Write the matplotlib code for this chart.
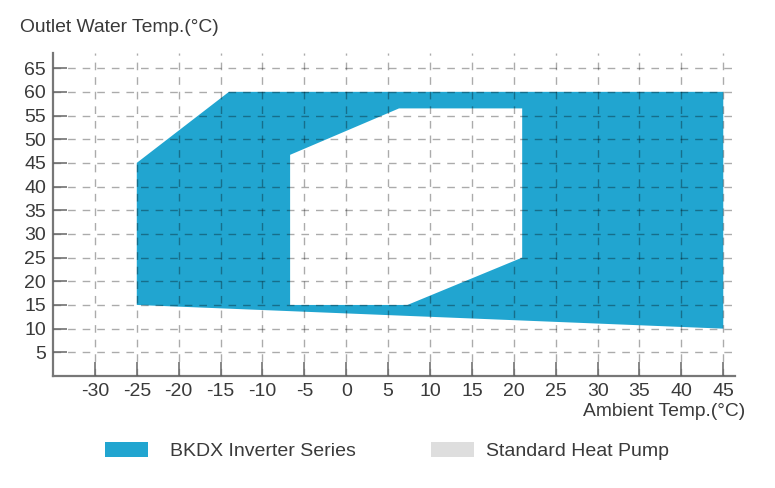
import matplotlib
matplotlib.use('Agg')
import matplotlib.pyplot as plt
from matplotlib.patches import Rectangle

# Operating envelope (ambient temp, outlet water temp)
outer_x = [-25, -14, 45, 45, -25]
outer_y = [45, 60, 60, 10, 15]
inner_x = [-6.7, 6.3, 21, 21, 7.3, -6.7]
inner_y = [46.7, 56.5, 56.5, 25, 15, 15]

x_ticks = [-30, -25, -20, -15, -10, -5, 0, 5, 10, 15, 20, 25, 30, 35, 40, 45]
y_ticks = [5, 10, 15, 20, 25, 30, 35, 40, 45, 50, 55, 60, 65]

legend_labels = ['BKDX Inverter Series', 'Standard Heat Pump']
blue = '#21a5d0'
gray = '#dedede'
text_color = '#3a3a3a'

plt.rcParams['font.family'] = ['Liberation Sans', 'DejaVu Sans']
plt.rcParams['axes.unicode_minus'] = False

W, H = 775, 488
fig = plt.figure(figsize=(W / 100, H / 100), dpi=100)
ax = fig.add_axes([53 / W, 1 - 376 / H, 682 / W, 323 / H])

ax.fill(outer_x, outer_y, color=blue, lw=0, zorder=1)
ax.fill(inner_x, inner_y, color='white', lw=0, zorder=1.5)

ax.set_xlim(-35, 46.4)
ax.set_ylim(0, 68.2)
ax.set_xticks(x_ticks)
ax.set_yticks(y_ticks)

ax.grid(True, color='black', alpha=0.33, lw=1.0, linestyle=(0, (5.5, 5)), zorder=2)
ax.set_axisbelow(False)

for s in ['top', 'right']:
    ax.spines[s].set_visible(False)
for s in ['left', 'bottom']:
    ax.spines[s].set_color('#777777')
    ax.spines[s].set_linewidth(1.6)

ax.tick_params(direction='in', length=10, width=1.1, color='#666666',
               labelsize=14, labelcolor=text_color, pad=5)

fig.text(20 / W, 1 - 28 / H, 'Outlet Water Temp.(°C)', fontsize=13.9,
         color=text_color, ha='left', va='center')
fig.text(745 / W, 1 - 412 / H, 'Ambient Temp.(°C)', fontsize=13.9,
         color=text_color, ha='right', va='center')

# legend
for (x0, tx), col, lab in zip([(105, 170), (431, 486)], [blue, gray], legend_labels):
    fig.patches.append(Rectangle((x0 / W, 1 - 457 / H), 43 / W, 15 / H,
                                 transform=fig.transFigure, color=col, lw=0))
    fig.text(tx / W, 1 - 452 / H, lab, fontsize=14, color=text_color,
             ha='left', va='center')

fig.savefig('out.png', dpi=100)
